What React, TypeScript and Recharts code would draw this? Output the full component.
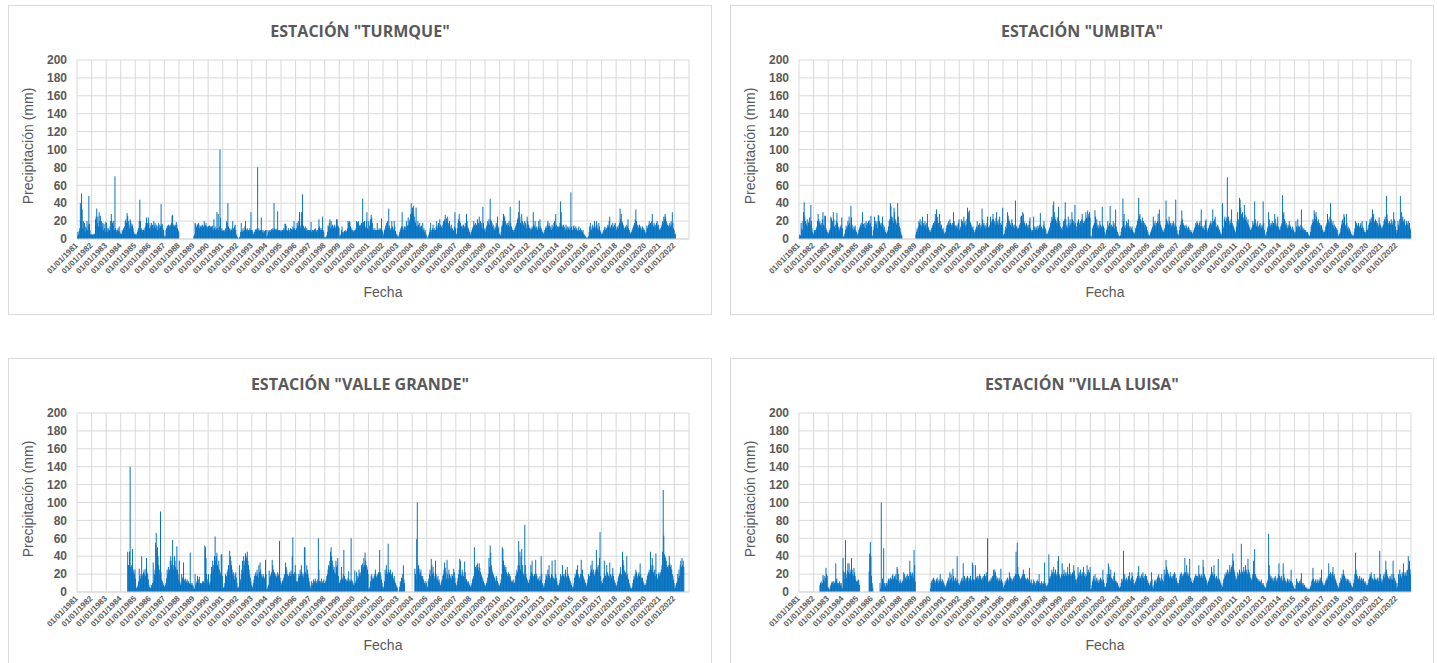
import { BarChart, Bar, XAxis, YAxis, CartesianGrid } from "recharts";

// Precipitación diaria, resumida en quincenas (24 valores por año, mm).
// null = sin registro.
const N = null;

const years = [
  1981, 1982, 1983, 1984, 1985, 1986, 1987, 1988, 1989, 1990, 1991, 1992, 1993, 1994,
  1995, 1996, 1997, 1998, 1999, 2000, 2001, 2002, 2003, 2004, 2005, 2006, 2007, 2008,
  2009, 2010, 2011, 2012, 2013, 2014, 2015, 2016, 2017, 2018, 2019, 2020, 2021, 2022,
];
const yTicks = [0, 20, 40, 60, 80, 100, 120, 140, 160, 180, 200];

const turmque = [
  [3, 8, 5, 9, 12, 40, 20, 51, 33, 12, 20, 10, 18, 8, 14, 12, 20, 10, 16, 48, 17, 10, 5, 5], // 1981
  [5, 5, 5, 5, 6, 5, 22, 25, 34, 18, 25, 14, 30, 20, 26, 12, 20, 14, 18, 10, 17, 12, 8, 19],
  [18, 12, 8, 12, 10, 10, 14, 20, 28, 20, 18, 15, 20, 10, 70, 12, 10, 8, 10, 12, 9, 14, 8, 6],
  [5, 6, 10, 8, 12, 10, 14, 20, 22, 18, 29, 26, 20, 16, 12, 22, 20, 14, 17, 15, 12, 8, 6, 5],
  [5, 6, 4, 8, 10, 12, 20, 44, 20, 10, 12, 10, 8, 10, 12, 9, 14, 18, 24, 16, 18, 24, 18, 12], // 1985
  [12, 15, 18, 14, 16, 12, 20, 15, 18, 12, 16, 14, 10, 15, 18, 12, 16, 14, 39, 15, 17, 12, 10, 4],
  [2, 3, 10, 12, 14, 15, 16, 12, 15, 14, 16, 18, 26, 27, 16, 15, 14, 16, 15, 19, 16, 12, 10, 8],
  [N, N, N, N, N, N, N, N, N, N, N, N, N, N, N, N, N, N, N, N, N, N, N, N],
  [3, 5, 18, 17, 14, 12, 16, 17, 18, 12, 15, 14, 13, 15, 16, 12, 14, 20, 16, 15, 18, 14, 12, 14],
  [14, 15, 15, 14, 12, 14, 12, 15, 10, 22, 12, 14, 10, 12, 30, 12, 28, 10, 14, 100, 24, 10, 12, 9], // 1990
  [9, 10, 8, 10, 12, 8, 20, 18, 40, 14, 10, 12, 9, 11, 10, 12, 20, 12, 10, 14, 16, 10, 5, 3],
  [2, 1, 0, 2, 3, 8, 18, 10, 8, 12, 9, 10, 14, 20, 11, 10, 12, 8, 10, 9, 12, 10, 30, 10],
  [10, 8, 5, 6, 8, 10, 11, 10, 12, 80, 10, 12, 9, 10, 10, 24, 10, 8, 10, 7, 9, 8, 10, 10],
  [2, 4, 10, 8, 9, 10, 8, 10, 11, 10, 12, 10, 40, 12, 10, 11, 10, 12, 31, 10, 9, 10, 10, 9],
  [8, 10, 10, 10, 12, 10, 17, 17, 15, 10, 9, 10, 12, 8, 10, 12, 10, 11, 10, 14, 12, 20, 12, 10], // 1995
  [10, 12, 18, 15, 20, 14, 30, 15, 12, 30, 20, 50, 15, 14, 12, 10, 14, 9, 12, 10, 8, 10, 10, 9],
  [10, 19, 8, 10, 10, 9, 10, 11, 12, 10, 8, 10, 10, 12, 22, 14, 12, 10, 10, 12, 25, 10, 8, 2],
  [1, 2, 3, 4, 8, 15, 14, 18, 22, 12, 20, 14, 16, 15, 12, 14, 16, 12, 14, 22, 22, 15, 14, 12],
  [3, 4, 5, 10, 14, 8, 6, 8, 9, 8, 10, 8, 9, 12, 20, 18, 20, 19, 14, 10, 12, 10, 9, 8],
  [10, 9, 10, 12, 20, 19, 18, 20, 14, 15, 16, 14, 18, 15, 45, 19, 18, 20, 14, 12, 20, 30, 12, 10], // 2000
  [20, 15, 10, 22, 27, 24, 18, 12, 10, 10, 12, 10, 9, 10, 18, 10, 10, 12, 10, 11, 12, 23, 10, 8],
  [4, 6, 10, 12, 15, 18, 13, 20, 12, 34, 15, 12, 10, 12, 20, 14, 12, 10, 20, 14, 9, 6, 5, 4],
  [3, 2, 5, 8, 10, 12, 14, 30, 14, 10, 12, 14, 10, 14, 20, 12, 15, 24, 16, 20, 22, 28, 40, 30],
  [35, 28, 37, 25, 20, 18, 35, 15, 14, 20, 16, 12, 18, 14, 10, 15, 12, 18, 10, 12, 8, 10, 6, 4],
  [2, 1, 3, 5, 8, 12, 18, 10, 8, 12, 16, 10, 12, 9, 10, 14, 20, 12, 15, 18, 14, 22, 16, 12], // 2005
  [14, 12, 16, 20, 18, 22, 27, 18, 23, 20, 25, 16, 18, 20, 14, 12, 16, 10, 12, 10, 9, 14, 30, 12],
  [5, 6, 12, 18, 22, 28, 20, 18, 15, 14, 12, 15, 16, 12, 14, 18, 13, 28, 20, 14, 12, 10, 8, 6],
  [4, 8, 10, 12, 14, 20, 16, 14, 18, 15, 16, 22, 14, 18, 25, 16, 20, 14, 18, 12, 36, 18, 12, 10],
  [8, 12, 14, 16, 20, 18, 22, 16, 45, 22, 20, 18, 14, 16, 12, 10, 14, 12, 18, 15, 25, 14, 12, 6],
  [5, 4, 8, 14, 16, 20, 28, 26, 24, 20, 18, 16, 14, 18, 16, 20, 14, 36, 18, 14, 12, 10, 10, 8], // 2010
  [10, 12, 14, 16, 18, 22, 24, 30, 43, 25, 18, 16, 28, 20, 18, 16, 14, 20, 18, 16, 12, 25, 20, 16],
  [14, 12, 10, 12, 11, 14, 12, 30, 16, 14, 20, 12, 14, 12, 10, 14, 20, 12, 22, 14, 12, 10, 8, 6],
  [6, 8, 10, 12, 14, 12, 16, 20, 14, 18, 15, 12, 14, 10, 16, 12, 14, 18, 20, 14, 28, 16, 12, 14],
  [12, 14, 14, 18, 42, 30, 16, 14, 12, 16, 14, 12, 10, 16, 12, 14, 10, 12, 14, 10, 12, 52, 14, 10],
  [10, 14, 15, 12, 10, 14, 12, 10, 9, 12, 14, 10, 8, 12, 10, 9, 8, 10, 6, 5, 4, 3, 2, 1], // 2015
  [1, 2, 3, 8, 14, 18, 12, 10, 14, 16, 12, 14, 20, 14, 12, 20, 16, 12, 10, 18, 14, 10, 8, 6],
  [4, 6, 8, 10, 12, 14, 10, 12, 12, 14, 16, 14, 20, 25, 12, 14, 16, 12, 18, 14, 12, 16, 18, 14],
  [10, 12, 14, 12, 16, 18, 34, 22, 28, 20, 18, 16, 14, 12, 10, 14, 12, 16, 14, 22, 12, 10, 8, 6],
  [6, 8, 10, 12, 14, 16, 18, 22, 33, 20, 14, 16, 12, 14, 16, 12, 14, 10, 12, 14, 10, 12, 10, 8],
  [6, 8, 15, 12, 14, 16, 20, 16, 18, 14, 20, 28, 16, 14, 18, 14, 16, 12, 18, 20, 14, 16, 12, 10], // 2020
  [10, 12, 14, 16, 20, 18, 25, 22, 28, 25, 20, 18, 16, 15, 14, 16, 18, 14, 20, 16, 30, 18, 12, 10],
  [5, 6, N, N, N, N, N, N, N, N, N, N, N, N, N, N, N, N, N, N, N, N, N, N],
];

const umbita = [
  [5, 3, 4, 18, 12, 10, 20, 30, 41, 25, 20, 18, 16, 22, 14, 18, 20, 24, 16, 38, 20, 12, 8, 6], // 1981
  [4, 10, 8, 10, 12, 14, 20, 28, 22, 18, 20, 16, 14, 18, 22, 30, 16, 14, 26, 26, 12, 10, 8, 6],
  [6, 8, 10, 12, 25, 23, 18, 20, 30, 22, 14, 12, 16, 20, 29, 18, 12, 14, 10, 12, 14, 16, 24, 12],
  [3, 2, 4, 6, 10, 15, 12, 14, 20, 16, 25, 18, 14, 37, 24, 16, 12, 10, 14, 12, 15, 10, 8, 6],
  [4, 6, 10, 12, 14, 16, 18, 14, 30, 16, 17, 14, 18, 12, 20, 16, 18, 14, 20, 21, 16, 18, 26, 14], // 1985
  [3, 4, 10, 14, 25, 20, 18, 16, 20, 12, 27, 26, 20, 18, 16, 14, 18, 25, 16, 12, 14, 10, 8, 6],
  [6, 8, 10, 14, 20, 22, 40, 37, 25, 20, 24, 18, 35, 30, 22, 20, 16, 18, 40, 25, 18, 14, 12, 8],
  [5, 4, N, N, N, N, N, N, N, N, N, N, N, N, N, N, N, N, N, N, N, N, N, N],
  [5, 8, 12, 10, 14, 20, 18, 22, 16, 14, 20, 25, 16, 18, 14, 20, 16, 12, 18, 28, 14, 12, 10, 8],
  [8, 10, 12, 14, 16, 18, 14, 20, 28, 22, 33, 20, 25, 18, 16, 28, 20, 14, 16, 12, 10, 12, 8, 6], // 1990
  [6, 8, 12, 15, 16, 18, 20, 16, 22, 18, 14, 16, 18, 14, 30, 20, 16, 15, 12, 14, 16, 12, 18, 22],
  [10, 12, 14, 22, 18, 20, 16, 25, 18, 20, 14, 16, 22, 35, 26, 30, 32, 20, 18, 16, 14, 12, 14, 10],
  [6, 8, 10, 12, 14, 20, 12, 16, 14, 18, 12, 16, 14, 34, 22, 16, 18, 14, 16, 12, 14, 18, 25, 14],
  [12, 14, 16, 25, 20, 18, 22, 28, 22, 18, 20, 16, 24, 30, 18, 20, 16, 22, 25, 18, 14, 16, 20, 35],
  [5, 4, 6, 10, 14, 12, 18, 30, 26, 22, 20, 18, 16, 14, 22, 18, 16, 14, 12, 16, 43, 15, 14, 12], // 1995
  [10, 12, 14, 16, 18, 25, 26, 20, 30, 28, 20, 18, 16, 14, 18, 16, 14, 12, 16, 20, 24, 12, 10, 8],
  [10, 8, 25, 14, 12, 10, 14, 12, 10, 15, 12, 14, 16, 29, 12, 14, 10, 12, 16, 20, 14, 12, 10, 6],
  [4, 6, 8, 10, 12, 14, 18, 20, 25, 22, 38, 42, 30, 25, 22, 20, 18, 24, 16, 36, 20, 18, 14, 10],
  [12, 10, 14, 20, 16, 22, 41, 22, 14, 16, 12, 25, 18, 14, 22, 16, 18, 30, 22, 18, 20, 16, 38, 18],
  [10, 14, 18, 20, 22, 16, 18, 20, 14, 22, 28, 20, 18, 16, 20, 22, 30, 24, 22, 32, 25, 28, 30, 24], // 2000
  [3, 2, 4, 12, 14, 16, 18, 32, 25, 18, 22, 14, 16, 12, 14, 20, 16, 12, 14, 36, 16, 14, 12, 8],
  [4, 6, 10, 12, 20, 14, 16, 18, 37, 14, 16, 12, 14, 20, 16, 12, 18, 33, 14, 10, 8, 6, 4, 3],
  [3, 4, 8, 12, 14, 45, 20, 28, 14, 12, 16, 20, 14, 18, 22, 15, 12, 14, 10, 12, 14, 10, 8, 6],
  [6, 8, 12, 14, 16, 20, 22, 46, 26, 28, 22, 20, 18, 24, 16, 20, 14, 18, 16, 12, 14, 10, 8, 5],
  [3, 4, 6, 8, 10, 12, 14, 25, 18, 16, 20, 14, 18, 16, 20, 28, 18, 33, 20, 16, 14, 12, 10, 8], // 2005
  [8, 10, 12, 16, 43, 22, 20, 18, 16, 25, 20, 18, 16, 14, 18, 16, 20, 18, 14, 16, 44, 14, 10, 6],
  [4, 5, 10, 14, 16, 20, 32, 22, 18, 16, 15, 14, 12, 16, 14, 12, 10, 14, 12, 10, 8, 10, 8, 6],
  [6, 8, 10, 12, 14, 18, 16, 20, 18, 14, 16, 18, 20, 14, 33, 15, 12, 14, 12, 10, 16, 20, 22, 12],
  [8, 10, 12, 14, 16, 18, 20, 16, 18, 33, 20, 18, 22, 25, 18, 14, 12, 16, 14, 12, 10, 8, 6, 4],
  [6, 40, 14, 12, 22, 25, 20, 18, 24, 69, 22, 25, 20, 16, 18, 22, 33, 18, 16, 14, 12, 10, 8, 6], // 2010
  [14, 20, 30, 22, 18, 46, 44, 35, 28, 25, 30, 22, 24, 38, 27, 22, 25, 20, 18, 22, 16, 14, 12, 10],
  [10, 12, 14, 20, 16, 18, 42, 22, 18, 14, 16, 20, 14, 12, 16, 18, 14, 12, 16, 14, 42, 18, 10, 6],
  [3, 4, 8, 12, 14, 30, 22, 16, 14, 18, 16, 20, 14, 18, 16, 28, 22, 16, 14, 18, 25, 14, 12, 10],
  [10, 14, 16, 18, 49, 28, 30, 22, 20, 16, 18, 14, 12, 16, 14, 20, 16, 14, 12, 10, 14, 12, 10, 8],
  [6, 8, 20, 14, 12, 22, 15, 12, 14, 10, 16, 33, 14, 12, 10, 12, 10, 8, 10, 8, 6, 8, 6, 4], // 2015
  [3, 4, 8, 14, 16, 18, 22, 20, 32, 28, 22, 30, 25, 18, 20, 22, 16, 18, 14, 16, 15, 12, 10, 8],
  [6, 8, 10, 14, 16, 18, 28, 22, 20, 18, 25, 40, 22, 18, 16, 20, 14, 16, 12, 14, 10, 12, 10, 6],
  [3, 4, 6, 8, 12, 16, 20, 22, 18, 28, 25, 16, 14, 28, 18, 12, 14, 10, 12, 10, 8, 6, 5, 4],
  [3, 4, 8, 12, 20, 16, 18, 15, 14, 18, 12, 14, 16, 18, 12, 20, 14, 12, 10, 8, 6, 8, 20, 10],
  [10, 12, 16, 18, 22, 20, 24, 18, 33, 25, 28, 20, 18, 22, 16, 20, 18, 16, 14, 24, 18, 16, 14, 12], // 2020
  [12, 14, 16, 20, 22, 25, 20, 48, 28, 22, 18, 16, 20, 18, 16, 22, 18, 16, 20, 30, 22, 20, 14, 10],
  [6, 10, 20, 16, 14, 22, 48, 18, 30, 22, 25, 20, 18, 22, 16, 14, 20, 18, 16, 20, 14, 18, 12, 10],
];

const valleGrande = [
  [N, N, N, N, N, N, N, N, N, N, N, N, N, N, N, N, N, N, N, N, N, N, N, N], // 1981
  [N, N, N, N, N, N, N, N, N, N, N, N, N, N, N, N, N, N, N, N, N, N, N, N],
  [N, N, N, N, N, N, N, N, N, N, N, N, N, N, N, N, N, N, N, N, N, N, N, N],
  [N, N, N, N, N, N, N, N, N, N, N, 45, 30, 30, 45, 140, 28, 30, 25, 48, 25, 22, 20, 25],
  [15, 5, 4, 6, 8, 12, 26, 18, 15, 20, 40, 18, 20, 22, 25, 20, 18, 26, 38, 22, 20, 14, 8, 5], // 1985
  [4, 5, 8, 6, 10, 33, 12, 20, 25, 55, 66, 48, 50, 40, 30, 25, 20, 90, 22, 14, 12, 10, 8, 6],
  [6, 8, 10, 15, 25, 20, 28, 22, 25, 35, 40, 30, 35, 58, 25, 30, 40, 35, 28, 25, 51, 25, 20, 14],
  [35, 12, 8, 10, 20, 16, 14, 33, 14, 12, 15, 10, 12, 14, 10, 12, 10, 9, 44, 10, 8, 10, 8, 6],
  [3, 4, 20, 8, 10, 12, 18, 10, 14, 17, 8, 10, 10, 9, 12, 10, 12, 10, 52, 50, 38, 20, 14, 10],
  [20, 10, 8, 12, 20, 28, 22, 35, 30, 25, 40, 62, 35, 40, 44, 30, 28, 35, 25, 22, 20, 42, 42, 18], // 1990
  [4, 5, 6, 10, 20, 16, 18, 22, 25, 30, 20, 46, 40, 35, 30, 25, 20, 22, 18, 14, 20, 22, 16, 10],
  [5, 4, 6, 30, 10, 14, 20, 25, 35, 22, 40, 30, 35, 43, 40, 38, 45, 35, 30, 25, 20, 16, 12, 8],
  [4, 6, 10, 14, 18, 20, 22, 18, 25, 20, 16, 30, 22, 33, 25, 20, 18, 16, 20, 18, 16, 14, 36, 20],
  [3, 4, 6, 8, 24, 16, 18, 20, 22, 36, 30, 25, 20, 22, 18, 20, 16, 18, 22, 18, 20, 57, 16, 12],
  [8, 10, 12, 14, 16, 20, 18, 33, 28, 25, 20, 16, 18, 20, 22, 18, 24, 20, 40, 61, 20, 18, 22, 30], // 1995
  [20, 12, 10, 12, 16, 20, 18, 25, 20, 30, 22, 18, 20, 16, 50, 50, 22, 20, 30, 25, 20, 16, 12, 8],
  [4, 6, 12, 8, 10, 14, 10, 12, 15, 12, 10, 12, 14, 60, 25, 12, 10, 12, 15, 12, 10, 12, 14, 10],
  [10, 12, 14, 18, 20, 25, 30, 28, 35, 45, 50, 40, 35, 30, 25, 28, 22, 20, 35, 28, 30, 38, 18, 10],
  [10, 12, 14, 28, 16, 14, 20, 47, 18, 15, 14, 12, 14, 12, 16, 23, 12, 14, 12, 60, 14, 12, 10, 8],
  [8, 24, 10, 12, 22, 14, 18, 16, 25, 20, 22, 18, 30, 25, 32, 28, 38, 30, 44, 35, 30, 28, 25, 20], // 2000
  [3, 4, 6, 12, 18, 20, 14, 16, 15, 18, 20, 25, 18, 16, 20, 18, 22, 20, 47, 22, 18, 14, 10, 6],
  [4, 6, 12, 25, 20, 30, 22, 20, 54, 25, 22, 20, 25, 20, 18, 22, 16, 14, 18, 12, 10, 8, 6, 5],
  [N, N, 2, 6, 12, 10, 16, 15, 20, 30, 14, 10, N, N, N, N, N, N, N, N, N, N, N, N],
  [N, N, N, N, 26, 20, 14, 59, 100, 25, 30, 26, 20, 22, 25, 18, 16, 18, 14, 12, 10, 8, 12, 10],
  [4, 6, 12, 15, 20, 25, 18, 37, 30, 20, 28, 22, 15, 18, 35, 20, 16, 14, 18, 12, 14, 10, 8, 6], // 2005
  [12, 14, 18, 20, 25, 33, 27, 22, 15, 36, 20, 15, 25, 20, 18, 16, 14, 20, 18, 15, 26, 22, 16, 10],
  [6, 8, 12, 16, 20, 25, 37, 35, 20, 18, 25, 22, 18, 16, 34, 22, 15, 14, 12, 10, 12, 10, 8, 6],
  [6, 8, 10, 14, 16, 18, 50, 22, 28, 26, 30, 32, 28, 24, 32, 27, 22, 20, 18, 16, 14, 12, 10, 8],
  [6, 8, 10, 12, 16, 20, 38, 28, 52, 44, 30, 25, 22, 20, 18, 16, 14, 12, 18, 16, 12, 10, 8, 6],
  [8, 10, 14, 20, 50, 48, 35, 28, 30, 25, 28, 22, 20, 18, 22, 16, 20, 18, 14, 12, 10, 12, 14, 10], // 2010
  [10, 12, 18, 20, 25, 22, 30, 57, 30, 45, 25, 40, 48, 30, 22, 20, 18, 75, 30, 20, 16, 14, 12, 10],
  [10, 14, 18, 30, 22, 35, 20, 18, 16, 20, 18, 36, 20, 18, 14, 16, 14, 12, 18, 14, 40, 20, 10, 8],
  [5, 6, 10, 14, 20, 18, 16, 25, 20, 30, 18, 16, 14, 20, 35, 18, 16, 15, 14, 36, 20, 16, 12, 8],
  [6, 8, 10, 14, 20, 16, 18, 30, 20, 18, 16, 20, 25, 18, 16, 28, 20, 18, 16, 14, 12, 10, 8, 6],
  [4, 6, 10, 16, 20, 18, 25, 22, 30, 20, 18, 16, 14, 20, 36, 20, 25, 18, 16, 14, 12, 10, 8, 6], // 2015
  [10, 14, 20, 16, 18, 22, 30, 25, 35, 22, 25, 20, 18, 22, 25, 47, 28, 25, 30, 22, 38, 67, 18, 12],
  [8, 10, 14, 16, 35, 20, 18, 16, 30, 22, 20, 18, 16, 33, 20, 18, 16, 20, 27, 18, 14, 12, 10, 8],
  [6, 8, 12, 16, 18, 20, 22, 28, 20, 18, 45, 36, 30, 24, 20, 22, 18, 40, 20, 16, 14, 10, 8, 5],
  [3, 4, 6, 10, 14, 18, 16, 20, 25, 22, 18, 16, 20, 22, 18, 32, 20, 16, 14, 16, 12, 10, 8, 6],
  [8, 10, 14, 18, 20, 22, 25, 20, 45, 30, 25, 38, 30, 22, 20, 25, 18, 43, 20, 16, 14, 20, 22, 18], // 2020
  [20, 22, 25, 30, 45, 114, 63, 42, 40, 38, 35, 30, 28, 25, 30, 40, 32, 28, 30, 25, 20, 18, 14, 10],
  [4, 5, 8, 10, 12, 20, 16, 25, 18, 30, 35, 28, 38, 30, 35, 28, N, N, N, N, N, N, N, N],
];

const villaLuisa = [
  [N, N, N, N, N, N, N, N, N, N, N, N, N, N, N, N, N, N, N, N, N, N, N, N], // 1981
  [N, N, N, N, N, N, N, N, N, N, 8, 10, 12, 9, 10, 19, 14, 18, 12, 16, 27, 20, 18, 5],
  [5, 2, 3, 6, 8, 10, 12, 10, 12, 8, 10, 12, 32, 14, 15, 10, 8, 10, 12, 10, 8, 10, 6, 4],
  [38, 23, 22, 14, 58, 20, 16, 24, 32, 22, 32, 20, 22, 25, 38, 25, 20, 18, 27, 22, 18, 14, 12, 10],
  [12, 14, 13, 8, N, N, N, N, N, N, N, N, N, N, N, N, N, N, N, 23, 43, 56, 40, 18], // 1985
  [10, 5, N, N, N, N, N, N, N, N, N, N, N, 10, 4, 100, 8, 15, 12, 49, 10, 8, 6, 10],
  [10, 8, 12, 15, 12, 14, 16, 15, 14, 18, 20, 14, 16, 18, 16, 20, 14, 28, 26, 20, 12, 10, 14, 12],
  [10, 8, 12, 14, 22, 20, 12, 16, 18, 14, 20, 16, 18, 14, 35, 22, 20, 18, 22, 20, 16, 47, 30, 12],
  [N, N, N, N, N, N, N, N, N, N, N, N, N, N, N, N, N, N, N, N, N, N, N, N],
  [4, 10, 12, 14, 10, 16, 12, 14, 10, 12, 14, 16, 12, 10, 14, 12, 20, 15, 12, 10, 14, 12, 10, 8], // 1990
  [4, 6, 8, 10, 12, 14, 16, 12, 22, 14, 20, 16, 12, 26, 18, 14, 12, 16, 14, 12, 40, 14, 10, 8],
  [8, 10, 12, 14, 16, 12, 32, 14, 18, 15, 12, 16, 14, 18, 16, 12, 14, 16, 18, 14, 12, 33, 30, 14],
  [14, 12, 30, 14, 16, 18, 16, 14, 18, 20, 18, 16, 14, 12, 16, 18, 14, 20, 16, 18, 22, 14, 60, 12],
  [10, 12, 14, 12, 16, 14, 18, 16, 25, 20, 25, 22, 18, 14, 16, 14, 12, 16, 14, 12, 26, 14, 12, 10],
  [4, 6, 8, 12, 10, 14, 12, 16, 14, 12, 22, 18, 16, 14, 15, 12, 14, 16, 18, 14, 20, 45, 20, 55], // 1995
  [28, 20, 18, 16, 14, 15, 16, 18, 20, 25, 18, 20, 16, 15, 14, 12, 16, 14, 14, 27, 12, 10, 14, 10],
  [8, 10, 14, 12, 10, 8, 10, 12, 14, 10, 12, 20, 10, 8, 10, 12, 8, 10, 9, 12, 33, 10, 8, 6],
  [6, 8, 10, 42, 15, 18, 16, 20, 25, 22, 18, 28, 20, 22, 25, 20, 18, 22, 35, 40, 20, 18, 16, 14],
  [20, 32, 18, 20, 25, 18, 22, 20, 18, 22, 28, 20, 18, 32, 22, 18, 20, 18, 22, 20, 30, 24, 18, 14],
  [10, 14, 16, 28, 20, 22, 18, 25, 20, 18, 22, 20, 28, 22, 18, 16, 20, 18, 30, 22, 25, 20, 22, 28], // 2000
  [3, 4, 8, 12, 15, 18, 14, 20, 12, 14, 16, 12, 14, 10, 12, 14, 16, 12, 14, 12, 25, 14, 10, 6],
  [5, 6, 10, 20, 16, 32, 28, 20, 18, 25, 16, 15, 14, 12, 18, 22, 14, 12, 10, 12, 10, 8, 6, 5],
  [4, 6, 10, 15, 12, 14, 46, 16, 20, 14, 12, 16, 12, 14, 18, 16, 22, 14, 12, 16, 22, 18, 14, 10],
  [8, 10, 12, 14, 16, 18, 22, 29, 15, 18, 16, 14, 20, 18, 22, 16, 14, 18, 20, 16, 18, 14, 12, 10],
  [6, 8, 10, 12, 22, 14, 6, 4, 8, 12, 14, 12, 10, 14, 16, 18, 20, 16, 14, 12, 16, 20, 14, 8], // 2005
  [12, 25, 18, 20, 36, 28, 25, 22, 20, 18, 16, 22, 18, 16, 14, 18, 20, 16, 22, 20, 14, 16, 12, 10],
  [8, 10, 14, 18, 20, 22, 20, 18, 16, 20, 22, 38, 22, 18, 30, 20, 22, 18, 20, 37, 16, 15, 12, 10],
  [10, 12, 14, 16, 18, 20, 18, 16, 18, 16, 30, 20, 18, 16, 20, 18, 16, 36, 28, 20, 18, 16, 14, 12],
  [8, 10, 12, 14, 16, 18, 20, 28, 22, 20, 18, 30, 20, 16, 14, 18, 16, 14, 37, 15, 14, 12, 10, 8],
  [4, 6, 10, 14, 16, 20, 18, 22, 20, 25, 22, 20, 24, 30, 22, 26, 28, 30, 43, 35, 25, 22, 18, 14], // 2010
  [14, 16, 22, 18, 20, 25, 22, 20, 54, 24, 22, 20, 28, 22, 24, 30, 25, 22, 20, 37, 25, 22, 20, 16],
  [12, 14, 16, 20, 35, 22, 48, 20, 18, 16, 14, 15, 12, 14, 12, 10, 12, 14, 10, 8, 10, 8, 6, 5],
  [4, 6, 10, 12, 14, 65, 30, 20, 16, 18, 15, 14, 16, 12, 14, 16, 18, 14, 12, 16, 14, 20, 32, 18],
  [14, 16, 18, 14, 12, 32, 20, 16, 14, 12, 10, 12, 15, 14, 12, 10, 14, 12, 25, 12, 10, 8, 6, 4],
  [3, 4, 8, 15, 10, 12, 10, 8, 12, 10, 14, 21, 10, 8, 10, 6, 8, 6, 5, 4, 5, 3, 4, 3], // 2015
  [3, 4, 6, 8, 12, 14, 27, 15, 12, 10, 14, 12, 10, 14, 12, 10, 14, 12, 16, 14, 25, 12, 10, 8],
  [6, 8, 10, 12, 14, 16, 14, 18, 32, 20, 18, 22, 16, 20, 22, 28, 18, 20, 16, 14, 12, 10, 8, 6],
  [4, 6, 10, 12, 16, 14, 20, 18, 25, 20, 18, 16, 14, 12, 15, 14, 12, 14, 10, 12, 10, 8, 6, 5],
  [6, 10, 14, 20, 44, 25, 20, 18, 15, 14, 16, 18, 14, 12, 16, 12, 14, 15, 12, 10, 12, 10, 8, 6],
  [8, 10, 14, 16, 20, 18, 22, 16, 15, 12, 14, 20, 16, 14, 12, 14, 16, 14, 12, 16, 46, 20, 15, 12], // 2020
  [10, 14, 18, 20, 16, 22, 35, 25, 20, 18, 15, 16, 14, 18, 16, 14, 20, 14, 35, 20, 16, 14, 12, 10],
  [4, 6, 10, 20, 16, 25, 20, 18, 16, 22, 20, 32, 22, 18, 20, 22, 18, 24, 25, 40, 30, 35, 25, 20],
];

const PER_YEAR = 24;
const firstYear = years[0];
const endYear = years[years.length - 1] + 1;
const xTicks = [...years, endYear];

const CHART_W = 702;
const CHART_H = 308;
const PLOT_L = 68;
const PLOT_R = 680;
const STEP_PX = (PLOT_R - PLOT_L) / (years.length * PER_YEAR);
// Each quincena is drawn a bit wider than its slot so neighbouring bars overlap
// (like Excel's dense daily columns) instead of leaving anti-aliasing seams.
const DRAW_W = STEP_PX * 1.6;
const BLUE = "#0070C0";
const GREY = "#595959";

function buildRows(values: (number | null)[][]) {
  const rows: { t: number; mm: number | null }[] = [];
  years.forEach((yr, yi) => {
    const row = values[yi] || [];
    for (let k = 0; k < PER_YEAR; k++) {
      rows.push({ t: yr + (k + 0.5) / PER_YEAR, mm: row[k] ?? null });
    }
  });
  return rows;
}

function ThinBar(props: any) {
  const { x, y, width, height } = props;
  if (!Number.isFinite(height) || height <= 0 || !Number.isFinite(x)) return <g />;
  const cx = x + width / 2;
  return <rect x={cx - DRAW_W / 2} y={y} width={DRAW_W} height={height} fill={BLUE} />;
}

function DateTick(props: any) {
  const { x, y, payload } = props;
  if (payload.value >= endYear) return <g />;
  const px = x + 1.5;
  const py = y + 7;
  return (
    <text
      x={px}
      y={py}
      transform={`rotate(-45 ${px} ${py})`}
      textAnchor="end"
      fontSize={8}
      fontWeight={700}
      fill={GREY}
      fontFamily="'Liberation Sans', Arial, sans-serif"
    >
      {`01/01/${payload.value}`}
    </text>
  );
}

function Panel({ name, values, left, top }: { name: string; values: (number | null)[][]; left: number; top: number }) {
  const data = buildRows(values);
  return (
    <div
      style={{
        position: "absolute",
        left,
        top,
        width: CHART_W + 2,
        height: CHART_H + 2,
        boxSizing: "border-box",
        border: "1px solid #D9D9D9",
        background: "#fff",
      }}
    >
      <div
        style={{
          position: "absolute",
          left: 0,
          top: 14.5,
          width: CHART_W,
          textAlign: "center",
          fontFamily: "'Open Sans', sans-serif",
          fontWeight: 700,
          fontSize: 16,
          lineHeight: "20px",
          color: GREY,
        }}
      >
        {`ESTACIÓN "${name}"`}
      </div>
      <BarChart
        width={CHART_W}
        height={CHART_H}
        data={data}
        margin={{ top: 54, right: CHART_W - PLOT_R, bottom: 30, left: 8 }}
        barCategoryGap={0}
        barGap={0}
      >
        <CartesianGrid stroke="#D9D9D9" />
        <XAxis
          type="number"
          dataKey="t"
          domain={[firstYear, endYear]}
          ticks={xTicks}
          interval={0}
          allowDataOverflow
          height={45}
          tickSize={0}
          tickMargin={0}
          tickLine={false}
          axisLine={{ stroke: "#D9D9D9" }}
          tick={(p: any) => <DateTick {...p} />}
        />
        <YAxis
          type="number"
          domain={[0, 200]}
          ticks={yTicks}
          interval={0}
          width={PLOT_L - 8}
          axisLine={false}
          tickLine={false}
          tickSize={0}
          tickMargin={10}
          tick={{ fontSize: 12, fontWeight: 700, fill: GREY, fontFamily: "'Liberation Sans', Arial, sans-serif" }}
        />
        <Bar dataKey="mm" fill={BLUE} shape={(p: any) => <ThinBar {...p} />} isAnimationActive={false} />
      </BarChart>
      <div
        style={{
          position: "absolute",
          left: 19,
          top: 140,
          transform: "translate(-50%, -50%) rotate(-90deg)",
          whiteSpace: "nowrap",
          fontFamily: "'Liberation Sans', Arial, sans-serif",
          fontSize: 14,
          lineHeight: "14px",
          color: GREY,
        }}
      >
        Precipitación (mm)
      </div>
      <div
        style={{
          position: "absolute",
          left: PLOT_L,
          width: PLOT_R - PLOT_L,
          top: 279,
          textAlign: "center",
          fontFamily: "'Liberation Sans', Arial, sans-serif",
          fontSize: 14,
          lineHeight: "14px",
          color: GREY,
        }}
      >
        Fecha
      </div>
    </div>
  );
}

export default function App() {
  return (
    <div
      style={{
        position: "fixed",
        left: 0,
        top: 0,
        width: 1437,
        height: 663,
        overflow: "hidden",
        background: "#fff",
      }}
    >
      <Panel name="TURMQUE" values={turmque} left={8} top={5} />
      <Panel name="UMBITA" values={umbita} left={730} top={5} />
      <Panel name="VALLE GRANDE" values={valleGrande} left={8} top={358} />
      <Panel name="VILLA LUISA" values={villaLuisa} left={730} top={358} />
    </div>
  );
}
